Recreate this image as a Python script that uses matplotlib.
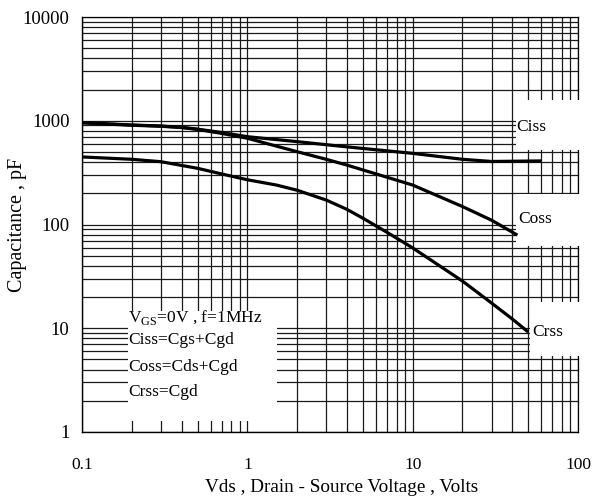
import numpy as np
import matplotlib as mpl
mpl.use('Agg')
import matplotlib.pyplot as plt
from matplotlib.patches import Rectangle
from matplotlib.ticker import FixedLocator, FixedFormatter, NullFormatter

plt.rcParams['font.family'] = ['Liberation Serif', 'DejaVu Serif']
plt.rcParams['mathtext.fontset'] = 'custom'
plt.rcParams['mathtext.rm'] = 'Liberation Serif'

# curves (Vds in V, capacitance in pF)
ciss_v = [0.1, 0.2, 0.3, 0.4, 0.5, 0.7, 1, 2, 4, 10, 20, 30, 60]
ciss_c = [960, 910, 890, 865, 830, 770, 702, 629, 560, 485, 425, 405, 410]
coss_v = [0.1, 0.2, 0.3, 0.4, 0.5, 0.7, 1, 2, 3, 4, 10, 20, 30, 43]
coss_c = [955, 905, 885, 860, 825, 755, 678, 503, 425, 374, 240, 149, 110, 79]
crss_v = [0.1, 0.2, 0.3, 0.5, 0.7, 1, 1.5, 2, 3, 4, 5, 6, 7, 10, 20, 30, 40, 50]
crss_c = [448, 425, 403, 348, 307, 270, 240, 214, 172, 140, 115, 97, 84, 59.5, 28.5, 17.5, 12.3, 9.2]

x_ticks = [0.1, 1, 10, 100]
x_labels = ['0.1', '1', '10', '100']
y_ticks = [1, 10, 100, 1000, 10000]
y_labels = ['1', '10', '100', '1000', '10000']

notes = [r'V$_{\mathrm{GS}}$=0V , f=1MHz', 'Ciss=Cgs+Cgd', 'Coss=Cds+Cgd', 'Crss=Cgd']

fig = plt.figure(figsize=(5.94, 5.01), dpi=100)
ax = fig.add_axes([82/594, 1-432/501, 496/594, 415/501])
ax.set_xscale('log')
ax.set_yscale('log')
ax.set_xlim(0.1, 100)
ax.set_ylim(1, 10000)

ax.xaxis.set_major_locator(FixedLocator(x_ticks))
ax.xaxis.set_major_formatter(FixedFormatter(x_labels))
ax.yaxis.set_major_locator(FixedLocator(y_ticks))
ax.yaxis.set_major_formatter(FixedFormatter(y_labels))
ax.xaxis.set_minor_formatter(NullFormatter())
ax.yaxis.set_minor_formatter(NullFormatter())
ax.tick_params(which='both', length=0)
ax.tick_params(axis='x', pad=18, labelsize=12.5)
ax.tick_params(axis='y', pad=9, labelsize=13.5)

ax.set_axisbelow(True)
ax.grid(which='both', color='#1a1a1a', lw=0.9)
for s in ['top', 'right']:
    ax.spines[s].set_zorder(0.6)
    ax.spines[s].set_linewidth(0.9)
for s in ['left', 'bottom']:
    ax.spines[s].set_linewidth(1.0)

# white patches where the printed grid is blank
boxes = [((42, 520), 70, 1580 - 520),
         ((42, 62), 70, 195 - 62),
         ((51, 5.35), 60, 18 - 5.35),
         ((0.19, 1.27), 1.52 - 0.19, 14.7 - 1.27)]
for (x0, y0), w, h in boxes:
    ax.add_patch(Rectangle((x0, y0), w, h, facecolor='white', edgecolor='none',
                           zorder=1, clip_on=False))

for v, c in [(ciss_v, ciss_c), (coss_v, coss_c), (crss_v, crss_c)]:
    ax.plot(v, c, color='black', lw=2.3, zorder=2, solid_capstyle='butt')

ax.text(42.3, 870, 'Ciss', fontsize=12.5, va='center', ha='left', zorder=3)
ax.text(43.4, 112, 'Coss', fontsize=12.5, va='center', ha='left', zorder=3)
ax.text(53, 9.3, 'Crss', fontsize=12.5, va='center', ha='left', zorder=3)

for txt, yv in zip(notes, [12.6, 7.7, 4.2, 2.43]):
    ax.text(0.19, yv, txt, fontsize=12.5, va='center', ha='left', zorder=3)

ax.set_xlabel('Vds , Drain - Source Voltage , Volts', fontsize=13.8)
ax.xaxis.set_label_coords(0.524, -0.113)
ax.set_ylabel('Capacitance , pF', fontsize=14.5)
ax.yaxis.set_label_coords(-0.11, 0.5)

plt.savefig('out.png', dpi=100)
